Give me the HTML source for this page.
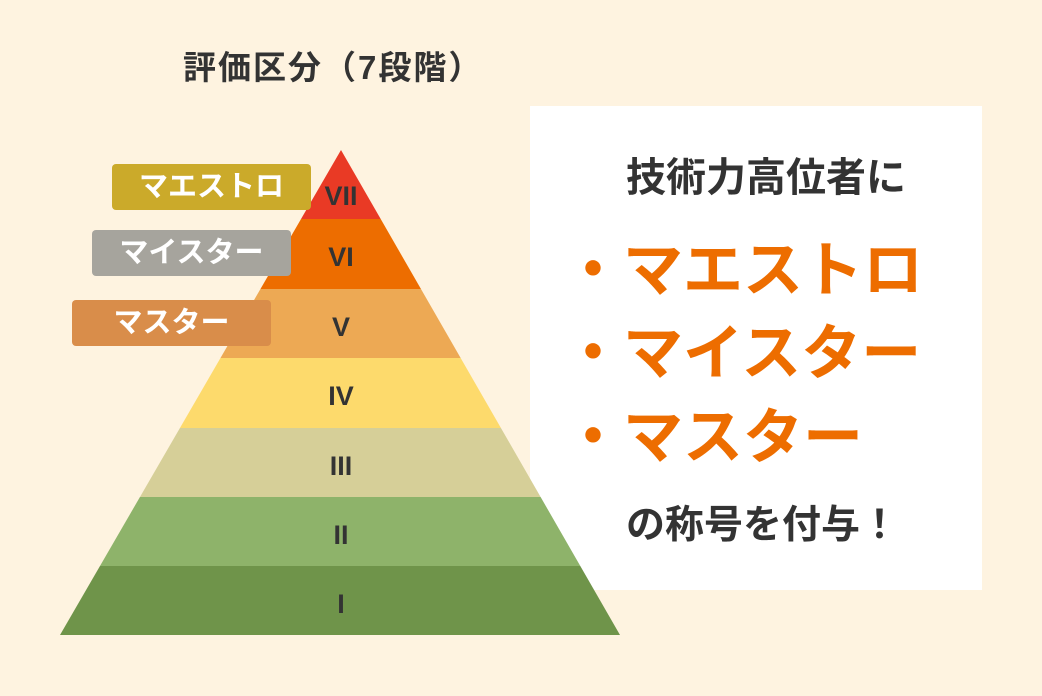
<!DOCTYPE html>
<html><head><meta charset="utf-8"><style>
html,body{margin:0;padding:0;background:#fef3e0;}
body{width:1042px;height:696px;position:relative;overflow:hidden;font-family:"Liberation Sans","Noto Sans CJK JP",sans-serif;}
.t{position:absolute;white-space:nowrap;font-weight:bold;line-height:1;}
.lab{position:absolute;border-radius:4px;color:#fff;font-weight:bold;font-size:29px;text-align:center;line-height:46px;height:46px;width:199px;}
</style></head><body>
<div class="t" style="left:183px;top:51px;font-size:33px;letter-spacing:2px;color:#333;">評価区分（7段階）</div>
<div style="position:absolute;left:530px;top:106px;width:452px;height:484px;background:#fff;"></div>
<svg width="1042" height="696" style="position:absolute;left:0;top:0">
<defs><clipPath id="c"><polygon points="341,150 620,635 60,635"/></clipPath></defs>
<g clip-path="url(#c)">
<rect x="0" y="140" width="700" height="79" fill="#e93a25"/>
<rect x="0" y="219" width="700" height="70" fill="#ed6d00"/>
<rect x="0" y="289" width="700" height="69" fill="#eda954"/>
<rect x="0" y="358" width="700" height="70" fill="#fdda6c"/>
<rect x="0" y="428" width="700" height="69" fill="#d6cf98"/>
<rect x="0" y="497" width="700" height="69" fill="#8eb36a"/>
<rect x="0" y="566" width="700" height="70" fill="#6f944a"/>
</g>
<g font-family="Liberation Sans, sans-serif" font-weight="bold" font-size="27" fill="#333" text-anchor="middle">
<text x="341" y="205">VII</text>
<text x="341" y="266">VI</text>
<text x="341" y="336">V</text>
<text x="341" y="405">IV</text>
<text x="341" y="475">III</text>
<text x="341" y="544">II</text>
<text x="341" y="613">I</text>
</g>
</svg>
<div class="lab" style="left:112px;top:164px;background:#cbaa2a;">マエストロ</div>
<div class="lab" style="left:92px;top:230px;background:#a6a49d;">マイスター</div>
<div class="lab" style="left:72px;top:300px;background:#d98d4a;">マスター</div>
<div class="t" style="left:626px;top:158px;font-size:40px;color:#333;">技術力高位者に</div>
<div class="t" style="left:563px;top:241px;font-size:60px;color:#ed6d00;">・マエストロ</div>
<div class="t" style="left:563px;top:324px;font-size:60px;color:#ed6d00;">・マイスター</div>
<div class="t" style="left:563px;top:408px;font-size:60px;color:#ed6d00;">・マスター</div>
<div class="t" style="left:626px;top:506px;font-size:39px;color:#333;">の称号を付与！</div>
</body></html>
